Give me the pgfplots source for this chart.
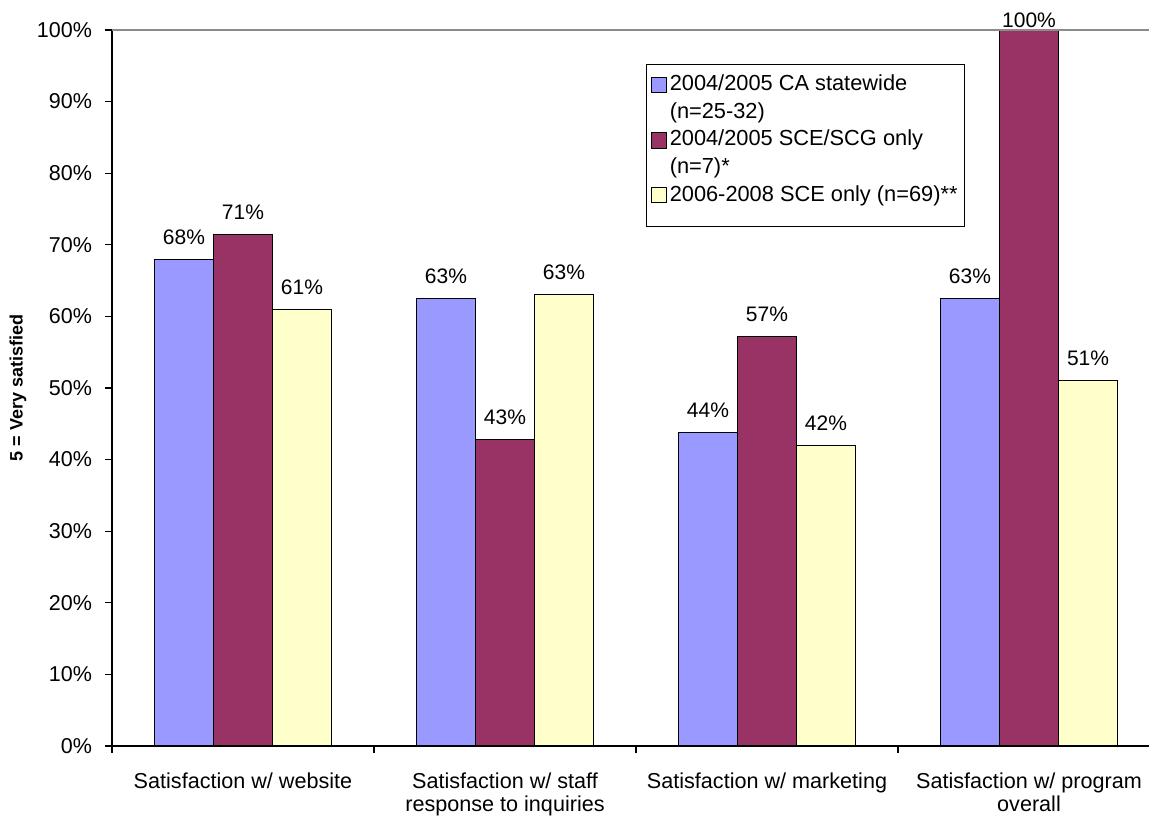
\documentclass[border=0pt]{standalone}
\usepackage{pgfplots}
\pgfplotsset{compat=1.18}
\usepackage{fontspec}
\setmainfont{Liberation Sans}

\definecolor{serA}{HTML}{9999FF}
\definecolor{serB}{HTML}{993366}
\definecolor{serC}{HTML}{FFFFCC}

% square swatches; the "up" variant sits on the first line of a two-line entry
\pgfplotsset{
  sqlegend/.style={legend image code/.code={%
    \draw[##1, draw=black, line width=0.5pt] (0pt,-3.6pt) rectangle (7.6pt,4pt);}},
  sqlegendup/.style={legend image code/.code={%
    \draw[##1, draw=black, line width=0.5pt] (0pt,2.6pt) rectangle (7.6pt,10.2pt);}},
}

\begin{document}
\begin{tikzpicture}
\begin{axis}[
  name=main,
  scale only axis, width=518.5pt, height=358pt,
  ybar=0pt, bar width=29.5pt,
  xmin=-0.5, xmax=3.458, ymin=0, ymax=100,
  clip=false,
  axis x line*=bottom, axis y line*=left,
  axis line style={black, line width=0.7pt},
  tick align=outside,
  tick style={black, line width=0.6pt},
  xtick={-0.5,0.5,1.5,2.5}, xticklabels={},
  major tick length=3.5pt,
  extra x ticks={0,1,2,3},
  extra x tick labels={Satisfaction w/ website,
    Satisfaction w/ staff\\response to inquiries,
    Satisfaction w/ marketing,
    Satisfaction w/ program\\overall},
  extra x tick style={major tick length=0pt,
    xticklabel style={align=center, font=\fontsize{10.8}{11.4}\selectfont,
      anchor=north, yshift=-10pt}},
  ytick={0,10,...,100},
  yticklabels={0\%,10\%,20\%,30\%,40\%,50\%,60\%,70\%,80\%,90\%,100\%},
  yticklabel style={font=\fontsize{10.75}{12}\selectfont, xshift=-3pt},
  ylabel={\bfseries 5 = Very satisfied},
  ylabel style={at={(axis description cs:-0.0906,0.5)}, anchor=center,
    font=\fontsize{9}{10}\selectfont},
  /pgf/number format/assume math mode=true,
  nodes near coords={\pgfmathprintnumber[fixed, precision=0]{\pgfplotspointmeta}\%},
  visualization depends on={y \as \rawy},
  every node near coord/.append style={font=\fontsize{10.5}{12}\selectfont,
    anchor=base, yshift={ifthenelse(\rawy>99,1.2,7.5)}},
  legend style={at={(rel axis cs:0.515,0.9525)}, anchor=north west,
    draw=black, line width=0.5pt, fill=white,
    font=\fontsize{10.9}{12.5}\selectfont,
    nodes={align=left, inner xsep=1.5pt},
    row sep=0.5pt, inner xsep=2pt, inner ysep=3pt},
  legend cell align=left,
]
\addplot[fill=serA, draw=black, line width=0.5pt, sqlegendup]
  coordinates {(0,68) (1,62.5) (2,43.75) (3,62.5)};
\addlegendentry{2004/2005 CA statewide\\[1.4pt](n=25-32)}
\addplot[fill=serB, draw=black, line width=0.5pt, sqlegendup]
  coordinates {(0,71.43) (1,42.86) (2,57.14) (3,100)};
\addlegendentry{2004/2005 SCE/SCG only\\[1.4pt](n=7)*}
\addplot[fill=serC, draw=black, line width=0.5pt, sqlegend]
  coordinates {(0,61) (1,63) (2,42) (3,51)};
\addlegendentry{2006-2008 SCE only (n=69)**}
\addlegendimage{empty legend}
\addlegendentry{}
% thin grey frame line along the top of the plot area
\draw[gray!90, line width=0.6pt] (rel axis cs:0,1) -- (rel axis cs:1,1);
\end{axis}
\pgfresetboundingbox
\path[use as bounding box] ([xshift=-56pt, yshift=-35pt]main.south west)
  rectangle ([yshift=15pt]main.north east);
\end{tikzpicture}
\end{document}
